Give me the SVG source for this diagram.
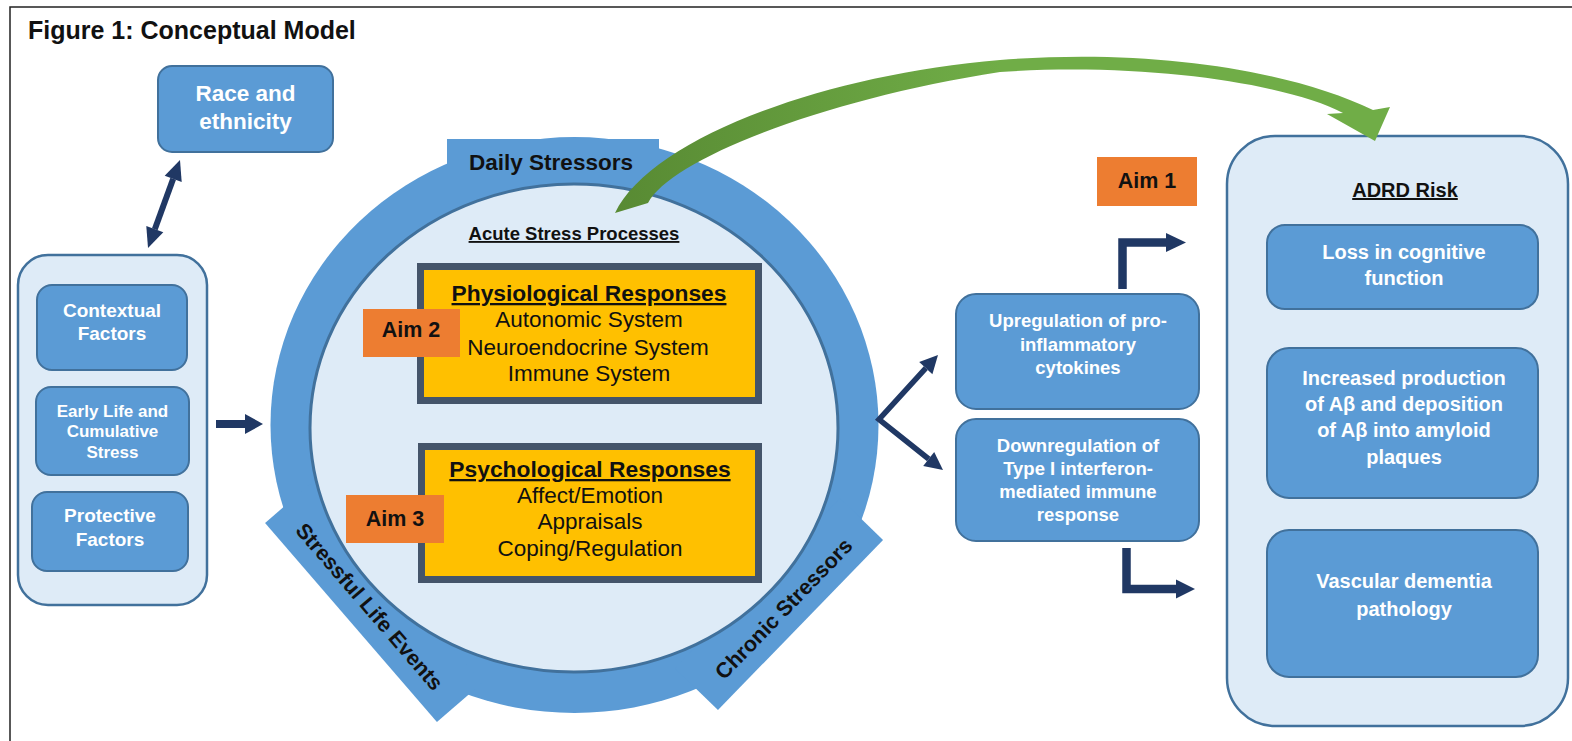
<svg xmlns="http://www.w3.org/2000/svg" width="1572" height="741" viewBox="0 0 1572 741">
<style>
text{font-family:"Liberation Sans",Arial,sans-serif;}
.b{font-weight:bold;}
.w{fill:#ffffff;font-weight:bold;text-anchor:middle;}
.k{fill:#111111;text-anchor:middle;}
.box{fill:#5B9BD5;stroke:#41719C;stroke-width:2;}
.cont{fill:#DEEBF7;stroke:#41719C;stroke-width:2.5;}
.aim{fill:#ED7D31;}
.ring{fill:#5B9BD5;}
.nav{fill:#203864;}
.navs{fill:none;stroke:#203864;}
</style>
<defs>
<linearGradient id="gg" x1="615" y1="0" x2="1000" y2="0" gradientUnits="userSpaceOnUse">
<stop offset="0" stop-color="#588A33"/>
<stop offset="1" stop-color="#70AD47"/>
</linearGradient>
</defs>
<rect x="0" y="0" width="1572" height="741" fill="#ffffff"/>
<rect x="10" y="7" width="1575" height="745" fill="none" stroke="#222222" stroke-width="1.5"/>
<text id="title" x="28" y="39" class="b" font-size="25" fill="#111111">Figure 1: Conceptual Model</text>

<g id="race">
<rect x="158" y="66" width="175" height="86" rx="14" class="box"/>
<text x="245.5" y="101" class="w" font-size="22.5">Race and</text>
<text x="245.5" y="129" class="w" font-size="22.5">ethnicity</text>
</g>

<g id="factors">
<rect x="18" y="255" width="189" height="350" rx="30" class="cont"/>
<g id="contextual">
<rect x="37" y="285" width="150" height="85" rx="15" class="box"/>
<text x="112" y="317" class="w" font-size="19">Contextual</text>
<text x="112" y="340" class="w" font-size="19">Factors</text>
</g>
<g id="earlylife">
<rect x="36" y="387" width="153" height="88" rx="15" class="box"/>
<text x="112.5" y="417" class="w" font-size="17">Early Life and</text>
<text x="112.5" y="437" class="w" font-size="17">Cumulative</text>
<text x="112.5" y="458" class="w" font-size="17">Stress</text>
</g>
<g id="protective">
<rect x="32" y="492" width="156" height="79" rx="15" class="box"/>
<text x="110" y="522" class="w" font-size="19">Protective</text>
<text x="110" y="546" class="w" font-size="19">Factors</text>
</g>
</g>

<g id="stress-circle">
<ellipse cx="574.5" cy="425" rx="304" ry="288" class="ring"/>
<rect x="-131.5" y="-60" width="263" height="60" class="ring" transform="translate(351,622.5) rotate(49.2)"/>
<rect x="-118.5" y="-60" width="237" height="60" class="ring" transform="translate(800.5,625) rotate(-45.85)"/>
<rect x="447" y="139" width="212" height="50" class="ring"/>
<ellipse cx="574" cy="428" rx="264" ry="244" fill="#DEEBF7" stroke="#41719C" stroke-width="3"/>
<text x="551" y="170" class="k b" font-size="22.5">Daily Stressors</text>
<text class="k b" font-size="21.5" transform="translate(351,622.5) rotate(49.2)" x="0" y="-17">Stressful Life Events</text>
<text class="k b" font-size="21.5" transform="translate(800.5,625) rotate(-45.85)" x="0" y="-16">Chronic Stressors</text>
<text x="574" y="240" class="k b" font-size="18.5" text-decoration="underline">Acute Stress Processes</text>
</g>

<g id="physiological">
<rect x="417" y="263" width="345" height="141" fill="#44546A"/>
<rect x="424" y="270" width="331" height="127" fill="#FFC000"/>
<text x="589" y="301" class="k b" font-size="22.8" text-decoration="underline">Physiological Responses</text>
<text x="589" y="327" class="k" font-size="22.5">Autonomic System</text>
<text x="588" y="355" class="k" font-size="22.5">Neuroendocrine System</text>
<text x="589" y="381" class="k" font-size="22.5">Immune System</text>
</g>
<g id="aim2">
<rect x="363" y="309" width="97" height="48" class="aim"/>
<text x="411" y="337" class="k b" font-size="21.5">Aim 2</text>
</g>

<g id="psychological">
<rect x="418" y="443" width="344" height="140" fill="#44546A"/>
<rect x="425" y="450" width="330" height="126" fill="#FFC000"/>
<text x="590" y="477" class="k b" font-size="22.8" text-decoration="underline">Psychological Responses</text>
<text x="590" y="503" class="k" font-size="22.5">Affect/Emotion</text>
<text x="590" y="529" class="k" font-size="22.5">Appraisals</text>
<text x="590" y="556" class="k" font-size="22.5">Coping/Regulation</text>
</g>
<g id="aim3">
<rect x="346" y="495" width="98" height="48" class="aim"/>
<text x="395" y="526" class="k b" font-size="21.5">Aim 3</text>
</g>

<g id="aim1">
<rect x="1097" y="157" width="100" height="49" class="aim"/>
<text x="1147" y="188" class="k b" font-size="21.5">Aim 1</text>
</g>

<g id="upregulation">
<rect x="956" y="294" width="243" height="115" rx="20" class="box"/>
<text x="1078" y="327" class="w" font-size="18.5">Upregulation of pro-</text>
<text x="1078" y="351" class="w" font-size="18.5">inflammatory</text>
<text x="1078" y="374" class="w" font-size="18.5">cytokines</text>
</g>
<g id="downregulation">
<rect x="956" y="419" width="243" height="122" rx="20" class="box"/>
<text x="1078" y="452" class="w" font-size="18.5">Downregulation of</text>
<text x="1078" y="475" class="w" font-size="18.5">Type I interferon-</text>
<text x="1078" y="498" class="w" font-size="18.5">mediated immune</text>
<text x="1078" y="521" class="w" font-size="18.5">response</text>
</g>

<g id="adrd">
<rect x="1227" y="136" width="341" height="590" rx="48" class="cont"/>
<text x="1405" y="197" class="k b" font-size="20" text-decoration="underline">ADRD Risk</text>
<g id="loss">
<rect x="1267" y="225" width="271" height="84" rx="18" class="box"/>
<text x="1404" y="259" class="w" font-size="20">Loss in cognitive</text>
<text x="1404" y="285" class="w" font-size="20">function</text>
</g>
<g id="amyloid">
<rect x="1267" y="348" width="271" height="150" rx="22" class="box"/>
<text x="1404" y="385" class="w" font-size="20">Increased production</text>
<text x="1404" y="411" class="w" font-size="20">of Aβ and deposition</text>
<text x="1404" y="437" class="w" font-size="20">of Aβ into amyloid</text>
<text x="1404" y="464" class="w" font-size="20">plaques</text>
</g>
<g id="vascular">
<rect x="1267" y="530" width="271" height="147" rx="22" class="box"/>
<text x="1404" y="588" class="w" font-size="20">Vascular dementia</text>
<text x="1404" y="616" class="w" font-size="20">pathology</text>
</g>
</g>

<g id="connectors">
<line x1="173.2" y1="178.8" x2="154.8" y2="229.2" class="navs" stroke-width="6"/>
<polygon points="180,160 181.7,181.9 164.7,175.7" class="nav"/>
<polygon points="148,248 163.3,232.3 146.3,226.1" class="nav"/>

<rect x="216" y="420" width="31" height="8" class="nav"/>
<polygon points="245,414 263,424 245,434" class="nav"/>

<polyline points="925.8,368.2 879,419.5 928.7,459" class="navs" stroke-width="5.5" stroke-linejoin="miter"/>
<polygon points="938,355 932.4,374.3 919.2,362.1" class="nav"/>
<polygon points="943,470 923.2,466.1 934.2,451.9" class="nav"/>

<path d="M1122.5,289 V242.5 H1168" class="navs" stroke-width="8.5" stroke-linejoin="miter"/>
<polygon points="1166,233 1186,242.5 1166,252" class="nav"/>
<path d="M1126.5,548 V589 H1178" class="navs" stroke-width="8.5" stroke-linejoin="miter"/>
<polygon points="1176,579.5 1195,589 1176,598.5" class="nav"/>

<path d="M615,213 C650,140 820,75 1000,60 C1150,48 1290,70 1373,110 L1390,107 L1375,141 L1327,114 L1343,113 C1290,85 1150,62 1000,72 C820,100 670,160 648,203 Z" fill="url(#gg)"/>
</g>
</svg>
